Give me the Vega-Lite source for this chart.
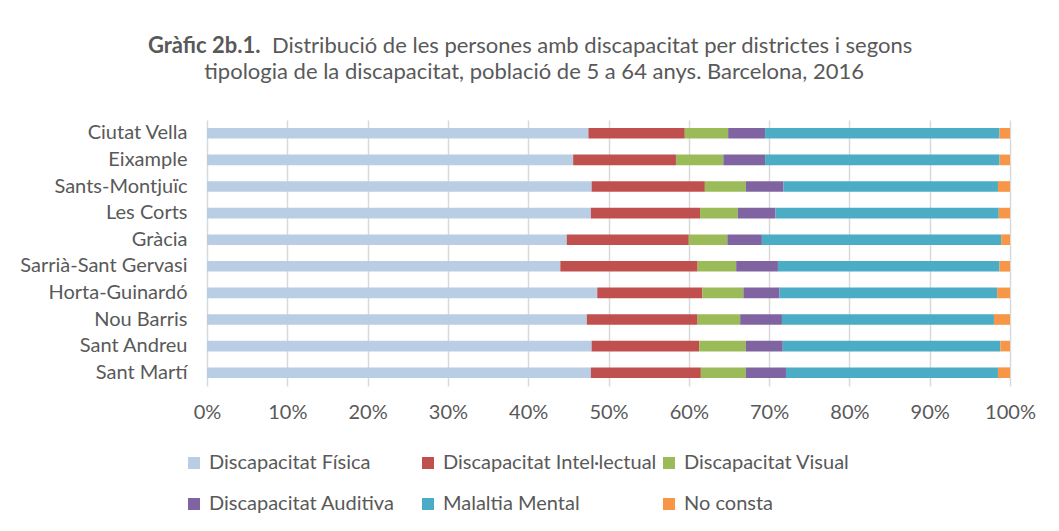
{
  "$schema": "https://vega.github.io/schema/vega-lite/v6.json",
  "width": 803,
  "height": 266,
  "autosize": {"type": "none"},
  "padding": {"left": 207, "top": 120, "right": 49, "bottom": 145},
  "background": "white",
  "config": {
    "font": "Lato",
    "view": {"stroke": null}
  },
  "title": {
    "text": "Gràfic 2b.1.",
    "subtitle": [
      "\u200b\u00a0\u00a0\u00a0\u00a0\u00a0\u00a0\u00a0\u00a0\u00a0\u00a0\u00a0\u00a0\u00a0\u00a0\u00a0\u00a0\u00a0\u00a0\u00a0\u00a0\u00a0\u00a0Distribució de les persones amb discapacitat per districtes i segons",
      "\u200b\u00a0\u00a0\u00a0\u00a0\u00a0\u00a0\u00a0\u00a0\u00a0\u00a0tipologia de la discapacitat, població de 5 a 64 anys. Barcelona, 2016"
    ],
    "anchor": "start",
    "frame": "group",
    "dx": -59,
    "offset": 36,
    "font": "Lato",
    "fontSize": 22,
    "fontWeight": "bold",
    "color": "#595959",
    "subtitleFont": "Lato",
    "subtitleFontSize": 22,
    "subtitleFontWeight": "normal",
    "subtitleColor": "#595959",
    "subtitleLineHeight": 26,
    "subtitlePadding": -22
  },
  "data": {
    "values": [
      {"districte": "Ciutat Vella", "tipus": "Discapacitat Física", "ordre": 1, "pct": 47.5},
      {"districte": "Ciutat Vella", "tipus": "Discapacitat Intel·lectual", "ordre": 2, "pct": 12.0},
      {"districte": "Ciutat Vella", "tipus": "Discapacitat Visual", "ordre": 3, "pct": 5.4},
      {"districte": "Ciutat Vella", "tipus": "Discapacitat Auditiva", "ordre": 4, "pct": 4.6},
      {"districte": "Ciutat Vella", "tipus": "Malaltia Mental", "ordre": 5, "pct": 29.2},
      {"districte": "Ciutat Vella", "tipus": "No consta", "ordre": 6, "pct": 1.3},
      {"districte": "Eixample", "tipus": "Discapacitat Física", "ordre": 1, "pct": 45.6},
      {"districte": "Eixample", "tipus": "Discapacitat Intel·lectual", "ordre": 2, "pct": 12.8},
      {"districte": "Eixample", "tipus": "Discapacitat Visual", "ordre": 3, "pct": 5.9},
      {"districte": "Eixample", "tipus": "Discapacitat Auditiva", "ordre": 4, "pct": 5.2},
      {"districte": "Eixample", "tipus": "Malaltia Mental", "ordre": 5, "pct": 29.2},
      {"districte": "Eixample", "tipus": "No consta", "ordre": 6, "pct": 1.3},
      {"districte": "Sants-Montjuïc", "tipus": "Discapacitat Física", "ordre": 1, "pct": 47.9},
      {"districte": "Sants-Montjuïc", "tipus": "Discapacitat Intel·lectual", "ordre": 2, "pct": 14.1},
      {"districte": "Sants-Montjuïc", "tipus": "Discapacitat Visual", "ordre": 3, "pct": 5.1},
      {"districte": "Sants-Montjuïc", "tipus": "Discapacitat Auditiva", "ordre": 4, "pct": 4.7},
      {"districte": "Sants-Montjuïc", "tipus": "Malaltia Mental", "ordre": 5, "pct": 26.7},
      {"districte": "Sants-Montjuïc", "tipus": "No consta", "ordre": 6, "pct": 1.5},
      {"districte": "Les Corts", "tipus": "Discapacitat Física", "ordre": 1, "pct": 47.8},
      {"districte": "Les Corts", "tipus": "Discapacitat Intel·lectual", "ordre": 2, "pct": 13.6},
      {"districte": "Les Corts", "tipus": "Discapacitat Visual", "ordre": 3, "pct": 4.7},
      {"districte": "Les Corts", "tipus": "Discapacitat Auditiva", "ordre": 4, "pct": 4.7},
      {"districte": "Les Corts", "tipus": "Malaltia Mental", "ordre": 5, "pct": 27.8},
      {"districte": "Les Corts", "tipus": "No consta", "ordre": 6, "pct": 1.4},
      {"districte": "Gràcia", "tipus": "Discapacitat Física", "ordre": 1, "pct": 44.8},
      {"districte": "Gràcia", "tipus": "Discapacitat Intel·lectual", "ordre": 2, "pct": 15.2},
      {"districte": "Gràcia", "tipus": "Discapacitat Visual", "ordre": 3, "pct": 4.8},
      {"districte": "Gràcia", "tipus": "Discapacitat Auditiva", "ordre": 4, "pct": 4.3},
      {"districte": "Gràcia", "tipus": "Malaltia Mental", "ordre": 5, "pct": 29.8},
      {"districte": "Gràcia", "tipus": "No consta", "ordre": 6, "pct": 1.1},
      {"districte": "Sarrià-Sant Gervasi", "tipus": "Discapacitat Física", "ordre": 1, "pct": 44.0},
      {"districte": "Sarrià-Sant Gervasi", "tipus": "Discapacitat Intel·lectual", "ordre": 2, "pct": 17.1},
      {"districte": "Sarrià-Sant Gervasi", "tipus": "Discapacitat Visual", "ordre": 3, "pct": 4.8},
      {"districte": "Sarrià-Sant Gervasi", "tipus": "Discapacitat Auditiva", "ordre": 4, "pct": 5.2},
      {"districte": "Sarrià-Sant Gervasi", "tipus": "Malaltia Mental", "ordre": 5, "pct": 27.6},
      {"districte": "Sarrià-Sant Gervasi", "tipus": "No consta", "ordre": 6, "pct": 1.3},
      {"districte": "Horta-Guinardó", "tipus": "Discapacitat Física", "ordre": 1, "pct": 48.6},
      {"districte": "Horta-Guinardó", "tipus": "Discapacitat Intel·lectual", "ordre": 2, "pct": 13.1},
      {"districte": "Horta-Guinardó", "tipus": "Discapacitat Visual", "ordre": 3, "pct": 5.1},
      {"districte": "Horta-Guinardó", "tipus": "Discapacitat Auditiva", "ordre": 4, "pct": 4.5},
      {"districte": "Horta-Guinardó", "tipus": "Malaltia Mental", "ordre": 5, "pct": 27.1},
      {"districte": "Horta-Guinardó", "tipus": "No consta", "ordre": 6, "pct": 1.6},
      {"districte": "Nou Barris", "tipus": "Discapacitat Física", "ordre": 1, "pct": 47.3},
      {"districte": "Nou Barris", "tipus": "Discapacitat Intel·lectual", "ordre": 2, "pct": 13.8},
      {"districte": "Nou Barris", "tipus": "Discapacitat Visual", "ordre": 3, "pct": 5.3},
      {"districte": "Nou Barris", "tipus": "Discapacitat Auditiva", "ordre": 4, "pct": 5.2},
      {"districte": "Nou Barris", "tipus": "Malaltia Mental", "ordre": 5, "pct": 26.4},
      {"districte": "Nou Barris", "tipus": "No consta", "ordre": 6, "pct": 2.0},
      {"districte": "Sant Andreu", "tipus": "Discapacitat Física", "ordre": 1, "pct": 47.9},
      {"districte": "Sant Andreu", "tipus": "Discapacitat Intel·lectual", "ordre": 2, "pct": 13.4},
      {"districte": "Sant Andreu", "tipus": "Discapacitat Visual", "ordre": 3, "pct": 5.8},
      {"districte": "Sant Andreu", "tipus": "Discapacitat Auditiva", "ordre": 4, "pct": 4.6},
      {"districte": "Sant Andreu", "tipus": "Malaltia Mental", "ordre": 5, "pct": 27.1},
      {"districte": "Sant Andreu", "tipus": "No consta", "ordre": 6, "pct": 1.2},
      {"districte": "Sant Martí", "tipus": "Discapacitat Física", "ordre": 1, "pct": 47.8},
      {"districte": "Sant Martí", "tipus": "Discapacitat Intel·lectual", "ordre": 2, "pct": 13.7},
      {"districte": "Sant Martí", "tipus": "Discapacitat Visual", "ordre": 3, "pct": 5.6},
      {"districte": "Sant Martí", "tipus": "Discapacitat Auditiva", "ordre": 4, "pct": 5.0},
      {"districte": "Sant Martí", "tipus": "Malaltia Mental", "ordre": 5, "pct": 26.4},
      {"districte": "Sant Martí", "tipus": "No consta", "ordre": 6, "pct": 1.5}
    ]
  },
  "mark": {"type": "bar"},
  "encoding": {
    "y": {
      "field": "districte",
      "type": "nominal",
      "sort": null,
      "scale": {"paddingInner": 0.6, "paddingOuter": 0.3},
      "axis": {
        "title": null,
        "domain": false,
        "ticks": false,
        "labelFont": "Lato",
        "labelFontSize": 20,
        "labelColor": "#595959",
        "labelPadding": 20,
        "labelLimit": 300
      }
    },
    "x": {
      "field": "pct",
      "type": "quantitative",
      "stack": "normalize",
      "scale": {"domain": [0, 1]},
      "axis": {
        "title": null,
        "format": ".0%",
        "values": [0, 0.1, 0.2, 0.3, 0.4, 0.5, 0.6, 0.7, 0.8, 0.9, 1],
        "domain": false,
        "ticks": false,
        "grid": true,
        "gridColor": "#D9D9D9",
        "gridWidth": 1.5,
        "labelFont": "Lato",
        "labelFontSize": 20,
        "labelColor": "#595959",
        "labelPadding": 16,
        "labelFlush": false
      }
    },
    "order": {"field": "ordre", "type": "quantitative", "sort": "ascending"},
    "color": {
      "field": "tipus",
      "type": "nominal",
      "sort": ["Discapacitat Física", "Discapacitat Intel·lectual", "Discapacitat Visual", "Discapacitat Auditiva", "Malaltia Mental", "No consta"],
      "scale": {
        "domain": ["Discapacitat Física", "Discapacitat Intel·lectual", "Discapacitat Visual", "Discapacitat Auditiva", "Malaltia Mental", "No consta"],
        "range": ["#B9CDE5", "#C0504D", "#9BBB59", "#8064A2", "#4BACC6", "#F79646"]
      },
      "legend": {
        "title": null,
        "orient": "none",
        "legendX": -23,
        "legendY": 333,
        "direction": "horizontal",
        "columns": 3,
        "columnPadding": 2,
        "rowPadding": 21,
        "symbolType": "square",
        "symbolSize": 144,
        "symbolStrokeWidth": 0,
        "labelFont": "Lato",
        "labelFontSize": 20,
        "labelColor": "#595959",
        "labelOffset": 5,
        "labelLimit": 400,
        "labelExpr": "datum.label == 'Discapacitat Auditiva' ? datum.label + '\u00a0\u00a0\u00a0\u00a0\u200b' : datum.label"
      }
    }
  }
}
